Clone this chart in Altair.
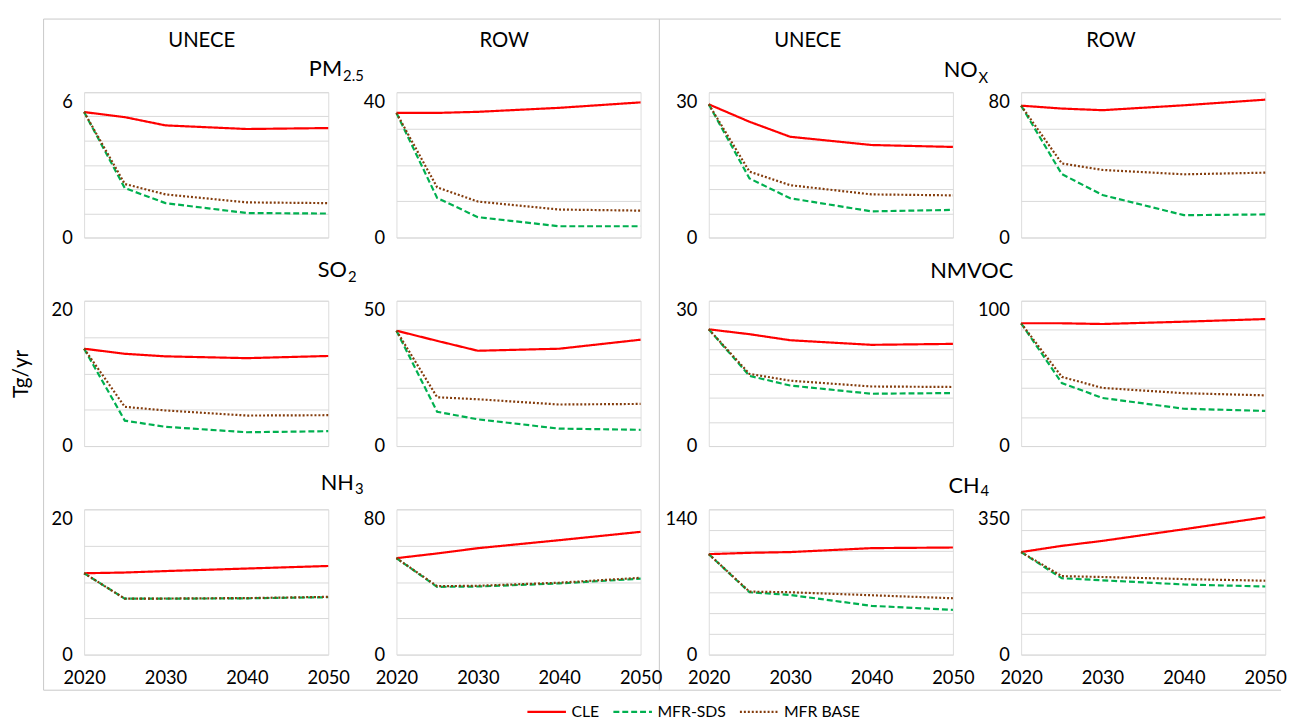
import altair as alt
import pandas as pd

FONT = "Lato"
FRAME = "#C8C8C8"
GRID = "#D9D9D9"

years = [2020, 2025, 2030, 2040, 2050]
series = ["CLE", "MFR-SDS", "MFR BASE"]
series_colors = ["#FF0000", "#00B050", "#843C0C"]
series_dashes = [[1, 0], [6, 3], [2, 2]]

# ---- values (Tg/yr) ----
pm25_unece_cle = [5.18, 4.97, 4.63, 4.48, 4.52]
pm25_unece_sds = [5.18, 2.04, 1.42, 1.01, 0.99]
pm25_unece_base = [5.18, 2.21, 1.78, 1.45, 1.42]
pm25_row_cle = [34.3, 34.3, 34.6, 35.7, 37.2]
pm25_row_sds = [34.3, 10.9, 5.6, 3.1, 3.1]
pm25_row_base = [34.3, 13.8, 9.9, 7.7, 7.4]

nox_unece_cle = [27.5, 23.9, 20.8, 19.1, 18.7]
nox_unece_sds = [27.5, 12.2, 8.1, 5.4, 5.7]
nox_unece_base = [27.5, 13.6, 10.8, 8.9, 8.7]
nox_row_cle = [72.6, 71.0, 70.1, 72.8, 75.9]
nox_row_sds = [72.6, 34.9, 23.4, 12.3, 12.7]
nox_row_base = [72.6, 40.8, 37.2, 34.8, 35.7]

so2_unece_cle = [13.4, 12.7, 12.35, 12.1, 12.4]
so2_unece_sds = [13.4, 3.5, 2.65, 1.9, 2.05]
so2_unece_base = [13.4, 5.4, 4.9, 4.2, 4.25]
so2_row_cle = [39.7, 36.2, 32.8, 33.5, 36.6]
so2_row_sds = [39.7, 11.8, 9.2, 6.0, 5.6]
so2_row_base = [39.7, 16.8, 16.1, 14.3, 14.5]

nmvoc_unece_cle = [24.1, 23.1, 21.85, 20.9, 21.1]
nmvoc_unece_sds = [24.1, 14.5, 12.5, 10.8, 10.95]
nmvoc_unece_base = [24.1, 14.9, 13.5, 12.3, 12.2]
nmvoc_row_cle = [84.5, 84.5, 84.0, 85.6, 87.4]
nmvoc_row_sds = [84.5, 43.4, 33.1, 25.7, 24.2]
nmvoc_row_base = [84.5, 47.6, 40.0, 36.4, 34.9]

nh3_unece_cle = [11.2, 11.3, 11.5, 11.85, 12.2]
nh3_unece_sds = [11.2, 7.7, 7.7, 7.75, 7.9]
nh3_unece_base = [11.2, 7.7, 7.72, 7.78, 7.95]
nh3_row_cle = [53.1, 55.7, 58.6, 63.0, 67.6]
nh3_row_sds = [53.1, 37.3, 37.5, 39.2, 41.8]
nh3_row_base = [53.1, 37.7, 37.9, 39.6, 42.3]

ch4_unece_cle = [96.8, 98.1, 98.8, 102.6, 103.2]
ch4_unece_sds = [96.8, 60.1, 57.5, 47.0, 43.1]
ch4_unece_base = [96.8, 60.7, 60.1, 57.2, 54.3]
ch4_row_cle = [247, 262, 274, 302, 331]
ch4_row_sds = [247, 184, 179, 169, 164]
ch4_row_base = [247, 189, 187, 182, 178]

# panels in row-major order (4 columns)
panel_keys = ["PM2.5 UNECE", "PM2.5 ROW", "NOx UNECE", "NOx ROW",
              "SO2 UNECE", "SO2 ROW", "NMVOC UNECE", "NMVOC ROW",
              "NH3 UNECE", "NH3 ROW", "CH4 UNECE", "CH4 ROW"]
panel_values = [
    (pm25_unece_cle, pm25_unece_sds, pm25_unece_base),
    (pm25_row_cle, pm25_row_sds, pm25_row_base),
    (nox_unece_cle, nox_unece_sds, nox_unece_base),
    (nox_row_cle, nox_row_sds, nox_row_base),
    (so2_unece_cle, so2_unece_sds, so2_unece_base),
    (so2_row_cle, so2_row_sds, so2_row_base),
    (nmvoc_unece_cle, nmvoc_unece_sds, nmvoc_unece_base),
    (nmvoc_row_cle, nmvoc_row_sds, nmvoc_row_base),
    (nh3_unece_cle, nh3_unece_sds, nh3_unece_base),
    (nh3_row_cle, nh3_row_sds, nh3_row_base),
    (ch4_unece_cle, ch4_unece_sds, ch4_unece_base),
    (ch4_row_cle, ch4_row_sds, ch4_row_base),
]
y_max = [6, 40, 30, 80, 20, 50, 30, 100, 20, 80, 140, 350]
y_step = [1, 10, 5, 20, 5, 10, 5, 20, 5, 20, 20, 50]

region_headers = ["UNECE", "ROW", "UNECE", "ROW"]
# pollutant titles: (panel index, main text, subscript)
pollutant_titles = [(0, "PM", "2.5"), (2, "NO", "X"), (4, "SO", "2"),
                    (6, "NMVOC", ""), (8, "NH", "3"), (10, "CH", "4")]

rows = []
for key, vals in zip(panel_keys, panel_values):
    for name, vv in zip(series, vals):
        for yr, v in zip(years, vv):
            rows.append({"panel": key, "series": name, "year": yr, "value": v})
df = pd.DataFrame(rows)

W, H = 247, 147

# layout helpers (pixel offsets relative to each panel's plot area)
header_x = [119, 109, 100, 91]
header_y = -46
title_pos = {0: (261, -16, -11), 2: (272, -15, -9), 4: (266, -24, -19),
             6: (266, -23, -23), 8: (273, -20, -16), 10: (274, -17, -13)}

legend = alt.Legend(title=None, orient="none", legendX=447, legendY=606,
                    direction="horizontal", symbolType="stroke",
                    symbolSize=1521, symbolStrokeWidth=2.2,
                    labelFont=FONT, labelFontSize=16, labelColor="#000000",
                    labelOffset=4, columnPadding=9, labelLimit=0)


def one_row():
    return alt.Data(values=[{"k": 0}])


def text_layer(txt, x, y, size, align="center"):
    return alt.Chart(one_row()).mark_text(
        text=txt, font=FONT, fontSize=size, align=align,
        baseline="alphabetic", color="#000000"
    ).encode(x=alt.value(x), y=alt.value(y))


def rule_layer(x, y, x2=None, y2=None):
    enc = {"x": alt.value(x), "y": alt.value(y)}
    if x2 is not None:
        enc["x2"] = alt.value(x2)
    if y2 is not None:
        enc["y2"] = alt.value(y2)
    return alt.Chart(one_row()).mark_rule(color=FRAME, strokeWidth=1).encode(**enc)


panels = []
for idx, key in enumerate(panel_keys):
    r, c = divmod(idx, 4)
    ymax, ystep = y_max[idx], y_step[idx]
    if r == 2:
        x_axis = alt.Axis(values=[2020, 2030, 2040, 2050], format="d", grid=False,
                          domain=False, ticks=False, labelFlush=False,
                          labelOverlap=False, labelPadding=14, labelFont=FONT,
                          labelFontSize=18.5, labelColor="#000000", title=None)
    else:
        x_axis = None
    y_kwargs = dict(
        values=list(range(0, ymax + 1, ystep)), grid=True, gridColor=GRID,
        gridWidth=1, domain=False, ticks=False, labelFlush=False,
        labelOverlap=False, labelPadding=12, labelFont=FONT, labelFontSize=18.5,
        labelColor="#000000",
        labelExpr=f"datum.value == 0 || datum.value == {ymax} ? datum.label : ''",
        labelBaseline={"condition": {"test": "datum.value == 0", "value": "middle"},
                       "value": "top"},
    )
    if idx == 4:
        y_kwargs.update(title="Tg/yr", titleFont=FONT, titleFontSize=21,
                        titleFontWeight="normal", titleColor="#000000",
                        titleAngle=270, titleX=-63, titleY=H / 2,
                        titleBaseline="middle", titleAlign="center")
    else:
        y_kwargs.update(title=None)
    lines = alt.Chart(df).transform_filter(alt.datum.panel == key).mark_line(
        strokeWidth=2.2
    ).encode(
        x=alt.X("year:Q", scale=alt.Scale(domain=[2020, 2050], nice=False, zero=False),
                axis=x_axis),
        y=alt.Y("value:Q", scale=alt.Scale(domain=[0, ymax], nice=False, zero=True),
                axis=alt.Axis(**y_kwargs)),
        color=alt.Color("series:N", scale=alt.Scale(domain=series, range=series_colors),
                        legend=legend, sort=series),
        strokeDash=alt.StrokeDash("series:N", scale=alt.Scale(domain=series, range=series_dashes),
                                  legend=legend, sort=series),
    )
    layers = [lines]
    if r == 0:
        layers.append(text_layer(region_headers[c], header_x[c], header_y, 20.5))
    for (pi, main, sub) in pollutant_titles:
        if pi == idx:
            jx, my, sy = title_pos[pi]
            if sub:
                layers.append(text_layer(main, jx, my, 22, align="right"))
                layers.append(text_layer(sub, jx + 1, sy, 15, align="left"))
            else:
                layers.append(text_layer(main, jx, my, 22, align="center"))
    if idx == 0:
        # outer frame and divider between the two halves
        layers.append(rule_layer(-41, -74, y2=605))
        layers.append(rule_layer(-41, -74, x2=1211))
        layers.append(rule_layer(-41, 605, x2=1211))
        layers.append(rule_layer(582, -74, y2=605))
    panels.append(alt.layer(*layers).properties(width=W, height=H))

chart = alt.concat(
    *panels, columns=4, spacing={"row": 64, "column": 69}, bounds="flush"
).properties(
    padding={"left": 2, "top": 6, "right": 0, "bottom": 0}
).configure_view(
    stroke=GRID, strokeWidth=1
).configure(
    font=FONT, background="white"
)

chart.save("out.html", embed_options={"renderer": "svg", "actions": False})
